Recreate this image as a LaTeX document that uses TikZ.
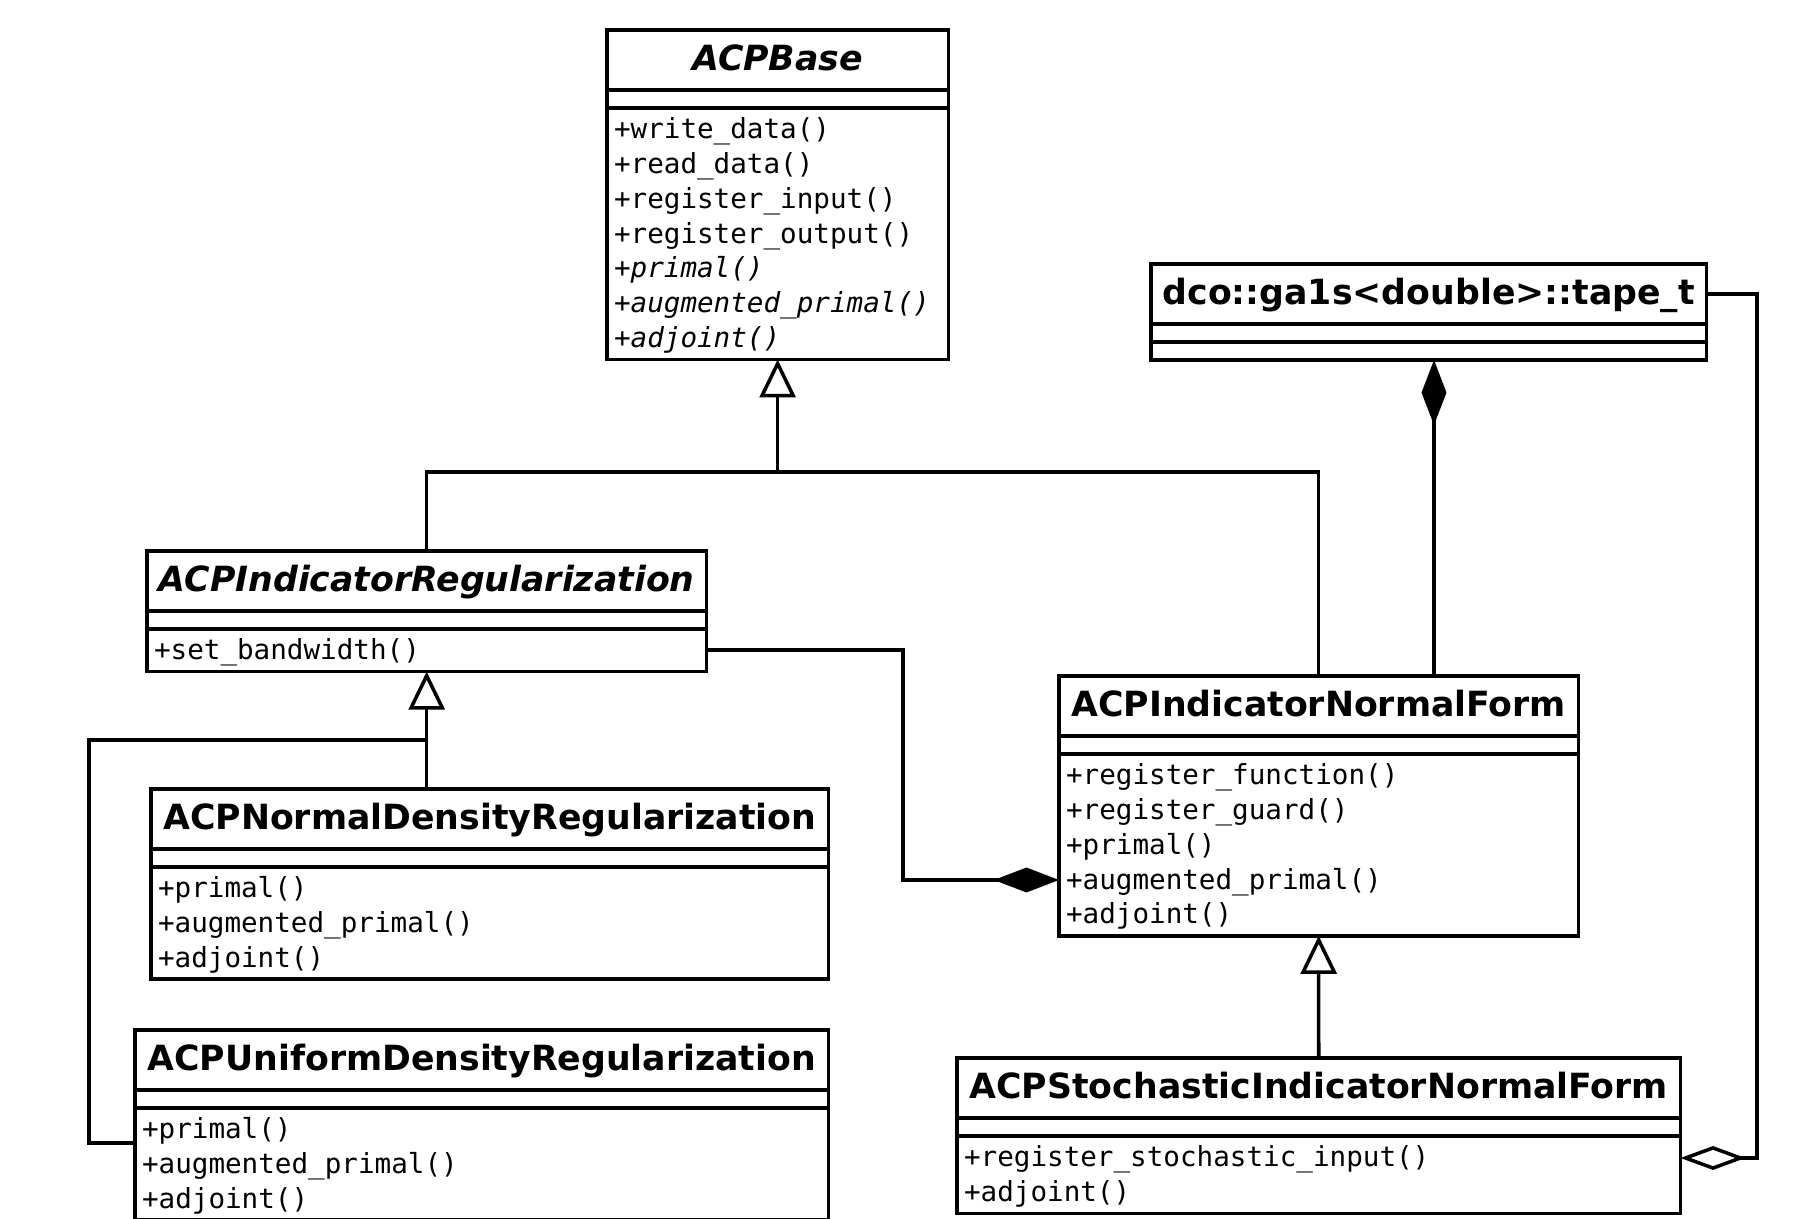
\documentclass[tikz,border=0pt]{standalone}
\usepackage{fontspec}
\setmainfont{DejaVu Sans}
\newfontfamily\opsfont{DejaVu Sans Mono}
\usetikzlibrary{shapes.multipart,arrows.meta}

% compartment contents
\newcommand{\umlname}[1]{\normalfont\fontsize{9.87pt}{12pt}\selectfont\bfseries\rule[-5.17pt]{0pt}{16.07pt}\hfill#1\hfill\null}
\newcommand{\umlabstract}[1]{\umlname{\itshape #1}}
\newcommand{\noattrs}{\rule{0pt}{4.12pt}}
\newcommand{\firstop}{\rule{0pt}{8.2pt}}
\newcommand{\lastop}{\rule[-2.9pt]{0pt}{2.9pt}}

\tikzset{
  umlclass/.style={draw, rectangle split, rectangle split parts=3,
    anchor=north west, inner xsep=2pt, inner ysep=0pt, outer sep=0pt,
    align=left, font=\opsfont\fontsize{7.85pt}{9.9pt}\selectfont},
  inherit/.style={-{Triangle[open,width=10.2pt,length=10.8pt]}},
  compose/.style={-{Diamond[width=7.1pt,length=18.5pt]}},
  aggregate/.style={-{Diamond[open,width=6.8pt,length=18.5pt]}}
}

\begin{document}
\begin{tikzpicture}[x=0.01cm,y=-0.01cm,line width=1pt]
\useasboundingbox (0,0) rectangle (1799,1219);

% classes
\node[umlclass,text width=3.27cm] (base) at (607,30) {\umlabstract{ACPBase}
  \nodepart{second}\noattrs
  \nodepart{third}\firstop+write\_data()\\+read\_data()\\+register\_input()\\+register\_output()\\
  \textit{+primal()}\\\textit{+augmented\_primal()}\\\textit{+adjoint()}\lastop};
\node[umlclass,text width=5.41cm] (tape) at (1151,264) {\umlname{dco::ga1s<double>::tape\_t}
  \nodepart{second}\noattrs
  \nodepart{third}\noattrs};
\node[umlclass,text width=5.45cm] (inreg) at (147,551) {\umlabstract{ACPIndicatorRegularization}
  \nodepart{second}\noattrs
  \nodepart{third}\firstop+set\_bandwidth()\lastop};
\node[umlclass,text width=6.63cm] (normreg) at (151,789) {\umlname{ACPNormalDensityRegularization}
  \nodepart{second}\noattrs
  \nodepart{third}\firstop+primal()\\+augmented\_primal()\\+adjoint()\lastop};
\node[umlclass,text width=6.79cm] (unireg) at (135,1030) {\umlname{ACPUniformDensityRegularization}
  \nodepart{second}\noattrs
  \nodepart{third}\firstop+primal()\\+augmented\_primal()\\+adjoint()\lastop};
\node[umlclass,text width=5.05cm] (inform) at (1059,676) {\umlname{ACPIndicatorNormalForm}
  \nodepart{second}\noattrs
  \nodepart{third}\firstop+register\_function()\\+register\_guard()\\+primal()\\
  +augmented\_primal()\\+adjoint()\lastop};
\node[umlclass,text width=7.09cm] (stoch) at (957,1058) {\umlname{ACPStochasticIndicatorNormalForm}
  \nodepart{second}\noattrs
  \nodepart{third}\firstop+register\_stochastic\_input()\\+adjoint()\lastop};

% bend points
\coordinate (basejoin) at (base.south |- 0,472);
\coordinate (regjoin) at (inreg.south |- 0,740);
\coordinate (regbend) at (89,1143);
\coordinate (compbend) at (903,880);
\coordinate (aggbend) at (1757,1158);
\coordinate (tapefoot) at (1434,0);

% generalizations
\draw (inreg.north) |- (basejoin) -| (inform.north);
\draw[inherit] (basejoin) -- (base.south);
\draw[inherit] (normreg.north -| inreg.south) -- (inreg.south);
\draw (regjoin) -| (regbend) -- (unireg.west |- regbend);
\draw[inherit] (stoch.north) -- (inform.south);

% compositions and aggregation
\draw[compose] (inreg.east |- 0,650) -| (compbend) -- (inform.west |- compbend);
\draw[compose] (inform.north -| tapefoot) -- (tape.south -| tapefoot);
\draw[aggregate] (tape.east |- 0,294) -| (aggbend) -- (stoch.east |- aggbend);
\end{tikzpicture}
\end{document}
